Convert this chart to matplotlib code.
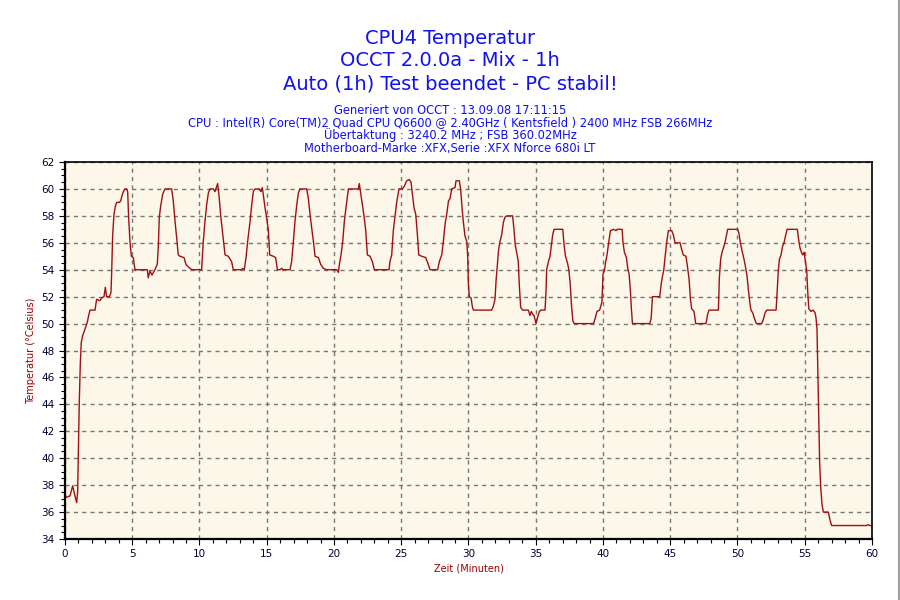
import matplotlib
matplotlib.use('Agg')
import matplotlib.pyplot as plt
from matplotlib.ticker import MultipleLocator

# Zeit in Minuten, Temperatur in Grad Celsius
zeit = [0.0, 0.1, 0.37, 0.57, 0.74, 0.87, 0.94, 0.99, 1.06, 1.14, 1.21, 1.31, 1.49, 1.66, 1.76, 1.86,
        2.23, 2.35, 2.6, 2.72, 2.9, 3.0, 3.09, 3.3, 3.42, 3.47, 3.54, 3.64, 3.74, 3.84, 4.04, 4.14,
        4.24, 4.34, 4.46, 4.58, 4.66, 4.73, 4.83, 4.93, 5.08, 5.2, 6.12, 6.19, 6.32, 6.47, 6.69, 6.86,
        6.94, 7.01, 7.11, 7.26, 7.43, 7.93, 8.05, 8.18, 8.3, 8.42, 8.55, 8.85, 8.99, 9.17, 9.42, 10.16,
        10.28, 10.41, 10.53, 10.66, 10.78, 11.03, 11.15, 11.28, 11.35, 11.45, 11.57, 11.72, 11.9, 12.14,
        12.39, 12.51, 13.13, 13.21, 13.33, 13.46, 13.58, 13.76, 13.88, 14.0, 14.13, 14.42, 14.57, 14.67,
        14.74, 14.87, 14.99, 15.12, 15.22, 15.49, 15.66, 15.79, 15.99, 16.11, 16.23, 16.73, 16.85, 16.98,
        17.1, 17.23, 17.35, 17.47, 17.97, 18.09, 18.22, 18.34, 18.47, 18.59, 18.84, 19.01, 19.21, 19.46,
        20.2, 20.33, 20.4, 20.52, 20.65, 20.77, 20.94, 21.07, 21.81, 21.88, 21.98, 22.11, 22.23, 22.36,
        22.48, 22.68, 22.85, 23.0, 24.09, 24.16, 24.29, 24.41, 24.54, 24.66, 24.83, 25.08, 25.23, 25.4,
        25.58, 25.73, 25.83, 25.95, 26.08, 26.2, 26.3, 26.52, 26.82, 26.97, 27.14, 27.71, 27.83, 28.01,
        28.13, 28.26, 28.38, 28.51, 28.63, 28.75, 29.0, 29.07, 29.32, 29.42, 29.52, 29.62, 29.74, 29.87,
        29.94, 29.99, 30.06, 30.19, 30.28, 30.36, 31.72, 31.85, 31.97, 32.05, 32.15, 32.24, 32.34, 32.47,
        32.59, 32.71, 32.84, 33.28, 33.38, 33.48, 33.58, 33.7, 33.78, 33.88, 34.03, 34.45, 34.57, 34.67,
        34.77, 34.87, 35.02, 35.12, 35.27, 35.37, 35.69, 35.76, 35.81, 35.94, 36.06, 36.19, 36.26, 36.36,
        37.01, 37.11, 37.21, 37.36, 37.46, 37.56, 37.66, 37.76, 37.86, 39.3, 39.42, 39.55, 39.75, 39.92,
        40.0, 40.1, 40.2, 40.3, 40.42, 40.55, 40.8, 40.97, 41.05, 41.42, 41.49, 41.59, 41.74, 41.84,
        41.94, 42.04, 42.11, 42.19, 43.48, 43.58, 43.68, 44.22, 44.32, 44.42, 44.52, 44.61, 44.73, 44.86,
        45.11, 45.23, 45.36, 45.73, 45.85, 45.97, 46.17, 46.27, 46.4, 46.5, 46.59, 46.77, 46.89, 47.66,
        47.76, 47.88, 48.58, 48.65, 48.75, 48.85, 48.95, 49.07, 49.17, 49.27, 50.01, 50.11, 50.21, 50.36,
        50.48, 50.58, 50.71, 50.81, 50.91, 51.0, 51.13, 51.25, 51.4, 51.8, 51.92, 52.05, 52.17, 52.87,
        52.97, 53.04, 53.12, 53.24, 53.34, 53.46, 53.59, 53.69, 54.45, 54.55, 54.65, 54.75, 54.85, 54.95,
        55.02, 55.15, 55.22, 55.3, 55.47, 55.62, 55.77, 55.84, 55.91, 55.96, 56.04, 56.11, 56.19, 56.28,
        56.38, 56.75, 56.88, 57.0, 59.6, 59.68, 59.85, 60.0]
temp = [37.2, 37.1, 37.2, 37.95, 37.2, 36.7, 37.5, 40.2, 44.1, 47.1, 48.6, 49.1, 49.6, 50.1, 50.6, 51.0,
        51.0, 51.8, 51.7, 51.9, 52.0, 52.7, 52.0, 52.0, 52.3, 53.8, 56.5, 58.1, 58.7, 59.0, 59.0, 59.1,
        59.5, 59.8, 60.0, 60.0, 59.8, 57.9, 56.1, 55.0, 54.9, 54.0, 54.0, 53.4, 53.9, 53.6, 54.0, 54.4,
        55.8, 57.9, 58.7, 59.6, 60.0, 60.0, 59.1, 57.6, 56.4, 55.1, 55.0, 54.9, 54.4, 54.2, 54.0, 54.0,
        56.1, 57.6, 58.8, 59.7, 60.0, 60.0, 59.8, 60.2, 60.4, 59.5, 58.1, 56.7, 55.1, 55.0,
        54.6, 54.0, 54.0, 54.1, 54.0, 54.9, 56.1, 57.6, 58.8, 59.8, 60.0, 60.0, 59.8, 60.1,
        59.6, 58.6, 57.9, 56.9, 55.1, 55.0, 54.9, 54.0, 54.0, 54.1, 54.0, 54.0, 54.6, 56.1,
        57.6, 58.8, 59.7, 60.0, 60.0, 59.3, 58.1, 57.1, 56.1, 55.0, 54.9, 54.4, 54.1, 54.0,
        54.0, 53.8, 54.4, 55.1, 56.1, 57.6, 59.0, 60.0, 60.0, 60.4, 59.7, 58.8, 58.0, 56.9,
        55.1, 55.0, 54.6, 54.0, 54.0, 54.6, 55.1, 56.9, 58.0, 59.0, 60.0, 60.0, 60.2, 60.6,
        60.7, 60.5, 59.6, 58.6, 58.1, 56.6, 55.1, 55.0, 54.9, 54.5, 54.0, 54.0, 54.6, 55.1,
        56.1, 57.4, 58.1, 59.1, 59.3, 60.0, 60.1, 60.6, 60.6, 59.95, 58.6, 57.5, 56.5, 56.1,
        55.0, 53.0, 52.0, 51.9, 51.3, 51.0, 51.0, 51.3, 51.8, 53.2, 54.4, 55.5, 56.1, 56.6,
        57.5, 57.9, 58.0, 58.0, 57.0, 55.8, 55.3, 54.6, 52.8, 51.2, 51.0, 51.0, 50.6, 50.9,
        50.7, 50.6, 50.0, 50.4, 50.9, 51.0, 51.0, 52.3, 54.0, 54.6, 55.0, 56.0, 56.6, 57.0,
        57.0, 55.8, 55.0, 54.5, 54.0, 53.0, 51.3, 50.2, 50.0, 50.0, 50.4, 50.9, 51.0, 51.6,
        53.7, 53.9, 54.6, 55.1, 56.0, 56.9, 57.0, 56.9, 57.0, 57.0, 56.0, 55.3, 54.9, 54.1,
        53.7, 52.4, 51.1, 50.0, 50.0, 50.4, 52.0, 52.0, 52.9, 53.5, 54.0, 54.9, 56.0, 56.9,
        56.9, 56.6, 56.0, 56.0, 55.5, 55.1, 55.0, 54.3, 53.3, 51.8, 51.1, 50.9, 50.0, 50.0,
        50.6, 51.0, 51.0, 53.4, 54.8, 55.3, 55.6, 56.0, 56.5, 57.0, 57.0, 56.7, 56.0, 55.3,
        54.8, 54.3, 53.5, 52.5, 51.6, 51.0, 50.8, 50.4, 50.0, 50.0, 50.3, 50.8, 51.0, 51.0,
        52.8, 54.0, 54.8, 55.1, 55.7, 56.0, 56.6, 57.0, 57.0, 56.2, 55.6, 55.3, 55.1, 55.3,
        54.8, 53.9, 52.4, 51.1, 50.9, 51.0, 50.8, 50.4, 49.6, 47.0, 43.0, 39.6, 37.8, 36.6,
        36.0, 36.0, 35.4, 35.0, 35.0, 35.06, 35.0, 35.0]

titel = ['CPU4 Temperatur', 'OCCT 2.0.0a - Mix - 1h', 'Auto (1h) Test beendet - PC stabil!']
info = ['Generiert von OCCT : 13.09.08 17:11:15',
        'CPU : Intel(R) Core(TM)2 Quad CPU Q6600 @ 2.40GHz ( Kentsfield ) 2400 MHz FSB 266MHz',
        '\u00dcbertaktung : 3240.2 MHz ; FSB 360.02MHz',
        'Motherboard-Marke :XFX,Serie :XFX Nforce 680i LT']

blau = '#1010f0'
rot = '#a01010'
dunkelrot = '#990000'

fig = plt.figure(figsize=(9, 6), dpi=100, facecolor='white')
ax = fig.add_axes([65 / 900, 1 - 539 / 600, 807 / 900, 377 / 600])
ax.set_facecolor('#fdf7e9')

ax.plot(zeit, temp, color=rot, linewidth=1.0)

ax.set_xlim(0, 60)
ax.set_ylim(34, 62)
ax.xaxis.set_major_locator(MultipleLocator(5))
ax.xaxis.set_minor_locator(MultipleLocator(1))
ax.yaxis.set_major_locator(MultipleLocator(2))
ax.yaxis.set_minor_locator(MultipleLocator(0.5))
ax.grid(True, which='major', color='#777777', linestyle=(0, (3, 3)), linewidth=1.0)
ax.tick_params(which='both', direction='out', colors='black', labelcolor='#000033',
               labelsize=7.5, width=0.8)
ax.tick_params(which='major', length=4)
ax.tick_params(which='minor', length=3)
for s in ['left', 'bottom']:
    ax.spines[s].set_linewidth(1.6)
for s in ['top', 'right']:
    ax.spines[s].set_linewidth(1.2)

ax.set_xlabel('Zeit (Minuten)', color=dunkelrot, fontsize=7, labelpad=3)
ax.set_ylabel('Temperatur (\u00b0Celsius)', color=dunkelrot, fontsize=7, labelpad=4)

# Titelzeilen
for i, z in enumerate(titel):
    fig.text(0.5, 1 - (38 + 23 * i) / 600, z, ha='center', va='center', color=blau, fontsize=14)
for i, z in enumerate(info):
    fig.text(0.5, 1 - (110 + 12.7 * i) / 600, z, ha='center', va='center', color=blau, fontsize=8.3)

# grauer Rand rechts
fig.add_artist(plt.Line2D([898.5 / 900, 898.5 / 900], [0, 1], color='#a0a0a0', linewidth=1.5))

fig.savefig('out.png', dpi=100, facecolor='white')
